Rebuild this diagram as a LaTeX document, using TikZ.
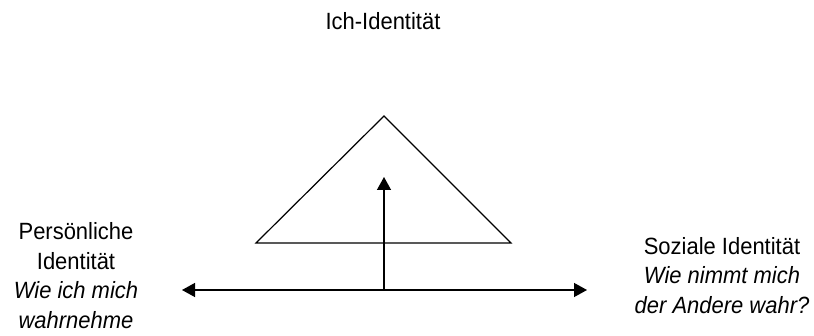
\documentclass[tikz,border=0pt]{standalone}
\usepackage{fontspec}
\setmainfont[FakeStretch=0.935]{Liberation Sans}
\usepackage{tikz}
\usetikzlibrary{arrows.meta, positioning}
\tikzset{
  label/.style={align=center, inner sep=0pt, anchor=base,
    font=\fontsize{23.5}{29.5}\selectfont},
  dreieck/.style={draw=black, line width=1.2pt, line join=miter},
  pfeil/.style={-{Triangle[length=13pt, width=14pt]}, line width=1.4pt},
  dpfeil/.style={{Triangle[length=13pt, width=14pt]}-{Triangle[length=13pt, width=14pt]}, line width=1.4pt},
}
\begin{document}
\begin{tikzpicture}[x=1pt, y=1pt]
  \useasboundingbox (0,0) rectangle (814,335);

  \node[label] (ich) at (383,305.7) {Ich-Identit\"at};
  % base anchor sits on the last line
  \node[label] (persoenlich) at (76,7)
    {Pers\"onliche\\Identit\"at\\\textit{Wie ich mich}\\\textit{wahrnehme}};
  \node[label] (sozial) at (722,22)
    {Soziale Identit\"at\\\textit{Wie nimmt mich}\\\textit{der Andere wahr?}};

  \coordinate (oben) at (384,219);
  \coordinate (basisL) at (256,92);
  \coordinate (basisR) at (511,92);
  \draw[dreieck] (oben) -- (basisR) -- (basisL) -- cycle;

  \coordinate (links) at (182,45);
  \coordinate (rechts) at (587,45);
  \coordinate (mitte) at (384,45);
  \coordinate (spitze) at (384,158);
  \draw[dpfeil] (links) -- (rechts);
  \draw[pfeil] (mitte) -- (spitze);
\end{tikzpicture}
\end{document}
